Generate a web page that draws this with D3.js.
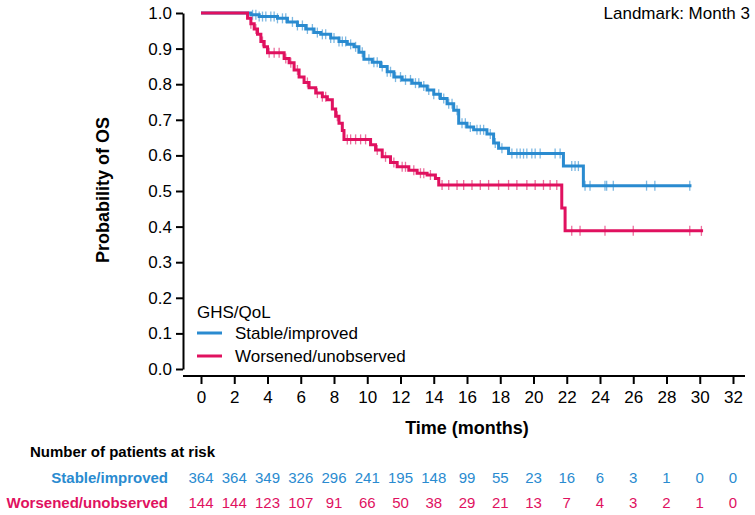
<!DOCTYPE html>
<html><head><meta charset="utf-8">
<script src="https://cdn.jsdelivr.net/npm/d3@7"></script>
<style>body{margin:0;background:#fff;} text{font-family:"Liberation Sans",Arial,sans-serif;}</style>
</head><body><svg id="c" width="755" height="515"></svg>
<script>
// ---- data ----
const seriesNames = ["Stable/improved", "Worsened/unobserved"];
const blueTimes = [0, 3.0, 3.5, 4.6, 5.2, 5.8, 6.3, 6.8, 7.2, 7.8, 8.3, 8.8, 9.2, 9.5, 9.8, 10.3, 10.8, 11.2, 11.6, 12.1, 12.7, 13.2, 13.6, 14.0, 14.4, 14.8, 15.2, 15.5, 16.0, 16.4, 17.2, 17.6, 17.9, 18.5, 21.8, 23.0];
const blueSurv  = [1.0, 0.995, 0.99, 0.985, 0.975, 0.965, 0.955, 0.945, 0.94, 0.93, 0.92, 0.912, 0.905, 0.89, 0.87, 0.862, 0.85, 0.835, 0.82, 0.812, 0.803, 0.795, 0.784, 0.772, 0.76, 0.745, 0.727, 0.69, 0.68, 0.672, 0.66, 0.635, 0.62, 0.605, 0.57, 0.515];
const blueEnd = 29.5;
const blueCensor = [3.1,3.3,3.5,3.7,3.9,4.2,4.4,4.6,4.9,5.1,5.5,5.8,6.1,6.4,6.7,7.0,7.3,7.5,7.8,8.0,8.3,8.5,8.7,9.0,9.3,9.7,10.1,10.4,10.6,10.9,11.2,11.4,11.7,12.0,12.3,12.6,12.9,13.1,13.4,13.7,14.0,14.3,14.6,14.9,15.1,15.4,15.7,15.9,16.2,16.6,16.8,17.0,17.4,17.7,18.1,18.7,19.0,19.2,19.4,19.6,19.9,20.1,20.4,21.3,21.6,22.3,22.5,22.7,23.1,23.4,24.3,24.4,24.8,26.8,27.3,29.4];

const redTimes = [0, 2.8, 3.0, 3.2, 3.4, 3.6, 3.8, 4.0, 5.0, 5.3, 5.6, 5.9, 6.2, 6.5, 6.9, 7.3, 7.6, 7.9, 8.1, 8.3, 8.5, 8.6, 10.2, 10.5, 10.9, 11.4, 11.8, 12.5, 13.0, 13.6, 14.1, 14.3, 21.7, 21.9];
const redSurv  = [1.0, 0.985, 0.97, 0.955, 0.94, 0.92, 0.905, 0.888, 0.872, 0.86, 0.84, 0.82, 0.805, 0.79, 0.775, 0.765, 0.756, 0.73, 0.71, 0.69, 0.67, 0.645, 0.63, 0.615, 0.596, 0.58, 0.568, 0.558, 0.55, 0.545, 0.535, 0.517, 0.452, 0.388];
const redEnd = 30.2;
const redCensor = [3.0,3.3,3.7,4.1,4.4,4.7,5.1,5.4,5.8,6.4,7.0,7.3,7.5,8.2,8.8,9.0,9.3,9.6,9.9,10.6,11.1,11.6,12.1,12.3,12.8,13.2,13.4,13.8,14.5,14.9,15.4,15.8,16.3,16.8,17.3,17.9,18.5,19.0,19.6,20.1,20.6,21.0,21.4,22.3,22.8,24.3,26.0,29.4,30.1];

const xTicks = [0,2,4,6,8,10,12,14,16,18,20,22,24,26,28,30,32];
const yTicks = [0,0.1,0.2,0.3,0.4,0.5,0.6,0.7,0.8,0.9,1.0];
const riskStable = [364,364,349,326,296,241,195,148,99,55,23,16,6,3,1,0,0];
const riskWorse  = [144,144,123,107,91,66,50,38,29,21,13,7,4,3,2,1,0];

// ---- styles ----
const BLUE = "#2a8bd0", RED = "#e0115f";
const svg = d3.select("#c");
const x = d3.scaleLinear().domain([0,32]).range([201,733]);
const y = d3.scaleLinear().domain([0,1]).range([369,13]);

// y axis
const ya = svg.append("g").attr("transform","translate(183,0)")
  .call(d3.axisLeft(y).tickValues(yTicks).tickFormat(d3.format(".1f")).tickSize(7).tickPadding(4).tickSizeOuter(0));
ya.selectAll("text").style("font-size","17px").attr("fill","#000");
ya.selectAll("line,path").attr("stroke","#000").attr("stroke-width",2);

// x axis
const xAxisY = 376;
const xa = svg.append("g").attr("transform",`translate(0,${xAxisY})`)
  .call(d3.axisBottom(x).tickValues(xTicks).tickSize(8).tickPadding(7).tickSizeOuter(0));
xa.select("path.domain").attr("d", `M183,0H745`);
xa.selectAll("text").style("font-size","17px").attr("fill","#000");
xa.selectAll("line,path").attr("stroke","#000").attr("stroke-width",2);

svg.append("text").attr("x",467).attr("y",434).attr("text-anchor","middle")
  .style("font-size","18px").style("font-weight","bold").text("Time (months)");
svg.append("text").attr("transform","translate(109,190) rotate(-90)").attr("text-anchor","middle")
  .style("font-size","18px").style("font-weight","bold").text("Probability of OS");
svg.append("text").attr("x",750).attr("y",19).attr("text-anchor","end")
  .style("font-size","17px").text("Landmark: Month 3");

// curves
function stepFn(times, surv){ return t => { let s = surv[0]; for (let i=0;i<times.length;i++){ if (times[i] <= t) s = surv[i]; } return s; }; }
const line = d3.line().x(d=>x(d[0])).y(d=>y(d[1])).curve(d3.curveStepAfter);
const groups = [
  {times:blueTimes, surv:blueSurv, end:blueEnd, cens:blueCensor, color:BLUE},
  {times:redTimes, surv:redSurv, end:redEnd, cens:redCensor, color:RED}
];
groups.forEach(g=>{
  const pts = g.times.map((t,i)=>[t,g.surv[i]]);
  pts.push([g.end, g.surv[g.surv.length-1]]);
  svg.append("path").attr("d", line(pts)).attr("fill","none").attr("stroke",g.color).attr("stroke-width",3);
  const f = stepFn(g.times, g.surv);
  svg.append("g").selectAll("line").data(g.cens).join("line")
    .attr("x1",d=>x(d)).attr("x2",d=>x(d))
    .attr("y1",d=>y(f(d))-5).attr("y2",d=>y(f(d))+5)
    .attr("stroke",g.color).attr("stroke-width",1.3).attr("opacity",0.6);
});

// legend
svg.append("text").attr("x",197).attr("y",318).style("font-size","17px").text("GHS/QoL");
seriesNames.forEach((n,i)=>{
  const yy = 333 + i*23;
  svg.append("line").attr("x1",197).attr("x2",222).attr("y1",yy).attr("y2",yy)
    .attr("stroke", i===0?BLUE:RED).attr("stroke-width",3);
  svg.append("text").attr("x",235).attr("y",yy+6).style("font-size","17px").text(n);
});

// risk table
svg.append("text").attr("x",30).attr("y",457).style("font-size","15px").style("font-weight","bold").text("Number of patients at risk");
[[riskStable,BLUE,483,seriesNames[0]],[riskWorse,RED,508,seriesNames[1]]].forEach(([arr,col,yy,name])=>{
  svg.append("text").attr("x",168).attr("y",yy).attr("text-anchor","end")
    .style("font-size","15px").style("font-weight","bold").attr("fill",col).text(name);
  svg.append("g").selectAll("text").data(arr).join("text")
    .attr("x",(d,i)=>x(xTicks[i])).attr("y",yy).attr("text-anchor","middle")
    .style("font-size","15px").attr("fill",col).text(d=>d);
});
</script></body></html>
